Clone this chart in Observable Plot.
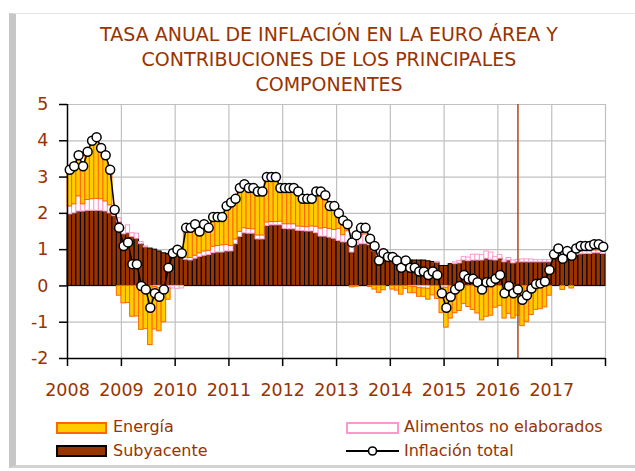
<!DOCTYPE html>
<html><head><meta charset="utf-8">
<script src="https://cdn.jsdelivr.net/npm/d3@7"></script>
<script src="https://cdn.jsdelivr.net/npm/@observablehq/plot@0.6"></script>
<style>
body{margin:0;background:#fff;font-family:"DejaVu Sans",sans-serif;}
#wrap{position:relative;width:635px;height:471px;overflow:hidden;background:#fff;}
#frame{position:absolute;left:9px;top:13px;width:640px;height:455px;box-sizing:border-box;border-top:1px solid #e6e6e6;border-left:7px solid #c6c6c6;border-bottom:3px solid #d2d2d2;}
#title{position:absolute;left:20px;top:22px;width:618px;text-align:center;font-size:19px;line-height:25px;color:#993300;}
#chart{position:absolute;left:0;top:90px;}
.chart text{fill:#993300;}
.lg{position:absolute;font-size:16px;line-height:16px;color:#993300;white-space:nowrap;}
.sw{position:absolute;box-sizing:border-box;height:12px;}
</style></head><body>
<div id="wrap">
  <div id="frame"></div>
  <div id="title">TASA ANUAL DE INFLACIÓN EN LA EURO ÁREA Y<br>CONTRIBUCIONES DE LOS PRINCIPALES<br>COMPONENTES</div>
  <div id="chart"></div>
  <div class="sw" style="left:56px;top:422px;width:51px;border:2px solid #ff6600;background:#ffcc00;"></div>
  <div class="lg" style="left:113px;top:419px;">Energía</div>
  <div class="sw" style="left:56px;top:445px;width:51px;border:2px solid #000;background:#993300;"></div>
  <div class="lg" style="left:113px;top:443px;">Subyacente</div>
  <div class="sw" style="left:346px;top:422px;width:53px;border:2px solid #ff99cc;background:#fff;"></div>
  <div class="lg" style="left:404px;top:419px;">Alimentos no elaborados</div>
  <svg style="position:absolute;left:340px;top:440px;" width="64" height="22"><line x1="6" y1="11" x2="59" y2="11" stroke="#000" stroke-width="2"/><circle cx="32.5" cy="11" r="4" fill="#fff" stroke="#000" stroke-width="1.6"/></svg>
  <div class="lg" style="left:404px;top:443px;">Inflación total</div>
</div>
<script>
const startYear = 2008;
const yearLabels = ["2008","2009","2010","2011","2012","2013","2014","2015","2016","2017"];
const yTickLabels = ["-2","-1","0","1","2","3","4","5"];
const seriesNames = ["Subyacente", "Alimentos no elaborados", "Energía"];

const inflacion = [
  3.2, 3.3, 3.6, 3.3, 3.7, 4.0, 4.1, 3.8, 3.6, 3.2, 2.1, 1.6,
  1.1, 1.2, 0.6, 0.6, 0.0, -0.1, -0.6, -0.2, -0.3, -0.1, 0.5, 0.9,
  1.0, 0.9, 1.6, 1.6, 1.7, 1.5, 1.7, 1.6, 1.9, 1.9, 1.9, 2.2,
  2.3, 2.4, 2.7, 2.8, 2.7, 2.7, 2.6, 2.6, 3.0, 3.0, 3.0, 2.7,
  2.7, 2.7, 2.7, 2.6, 2.4, 2.4, 2.4, 2.6, 2.6, 2.5, 2.2, 2.2,
  2.0, 1.8, 1.7, 1.2, 1.4, 1.6, 1.6, 1.3, 1.1, 0.7, 0.9, 0.8,
  0.8, 0.7, 0.5, 0.7, 0.5, 0.5, 0.4, 0.4, 0.3, 0.4, 0.3, -0.2,
  -0.6, -0.3, -0.1, 0.0, 0.3, 0.2, 0.2, 0.1, -0.1, 0.1, 0.1, 0.2,
  0.3, -0.2, 0.0, -0.2, -0.1, -0.38, -0.26, -0.07, 0.05, 0.07, 0.12, 0.44,
  0.87, 1.03, 0.75, 0.96, 0.83, 1.03, 1.1, 1.1, 1.1, 1.15, 1.15, 1.08
];
const subyacente = [
  1.97, 2.0, 2.05, 2.05, 2.07, 2.07, 2.07, 2.07, 2.05, 2.0, 1.92, 1.75,
  1.42, 1.45, 1.35, 1.3, 1.15, 1.06, 1.03, 1.0, 0.95, 0.9, 0.88, 0.87,
  0.85, 0.8, 0.72, 0.7, 0.75, 0.8, 0.83, 0.85, 0.9, 0.92, 0.92, 0.95,
  0.95, 1.15, 1.35, 1.45, 1.44, 1.44, 1.28, 1.28, 1.65, 1.67, 1.67, 1.67,
  1.57, 1.56, 1.56, 1.52, 1.51, 1.5, 1.5, 1.45, 1.36, 1.36, 1.33, 1.3,
  1.24, 1.2, 1.2, 0.92, 1.12, 1.15, 1.15, 1.12, 0.95, 0.75, 0.78, 0.7,
  0.8, 0.78, 0.72, 0.78, 0.7, 0.7, 0.7, 0.7, 0.68, 0.66, 0.64, 0.55,
  0.55, 0.6, 0.6, 0.62, 0.7, 0.68, 0.7, 0.7, 0.7, 0.75, 0.72, 0.7,
  0.75, 0.65, 0.7, 0.62, 0.65, 0.65, 0.65, 0.65, 0.65, 0.65, 0.65, 0.65,
  0.75, 0.8, 0.78, 0.85, 0.82, 0.85, 0.87, 0.88, 0.88, 0.9, 0.9, 0.88
];
const alimentos = [
  0.22, 0.25, 0.42, 0.2, 0.3, 0.32, 0.33, 0.32, 0.28, 0.22, 0.18, 0.12,
  0.16, 0.22, 0.1, 0.14, 0.06, 0.03, 0.0, -0.03, -0.06, -0.06, -0.07, -0.07,
  -0.08, -0.07, 0.06, 0.07, 0.08, 0.1, 0.12, 0.12, 0.18, 0.18, 0.2, 0.18,
  0.15, 0.13, 0.14, 0.14, 0.13, 0.12, 0.11, 0.11, 0.1, 0.09, 0.09, 0.1,
  0.13, 0.14, 0.14, 0.12, 0.12, 0.12, 0.14, 0.18, 0.22, 0.24, 0.24, 0.24,
  0.33, 0.2, 0.31, 0.32, 0.3, 0.27, 0.27, 0.21, 0.25, 0.14, 0.24, 0.1,
  0.1, 0.05, 0.02, 0.0, -0.02, -0.03, -0.06, -0.07, -0.08, 0.0, 0.02, -0.05,
  -0.05, 0.0, 0.05, 0.07, 0.1, 0.1, 0.16, 0.16, 0.15, 0.2, 0.2, 0.1,
  0.1, 0.05, 0.07, 0.08, 0.07, 0.08, 0.08, 0.08, 0.06, 0.06, 0.06, 0.06,
  0.07, 0.08, 0.08, 0.08, 0.08, 0.08, 0.08, 0.08, 0.08, 0.08, 0.08, 0.08
];
const energia = [
  1.01, 1.05, 1.13, 1.05, 1.33, 1.61, 1.70, 1.41, 1.27, 0.98, 0.0, -0.27,
  -0.48, -0.47, -0.85, -0.84, -1.21, -1.19, -1.63, -1.17, -1.19, -0.94, -0.31, 0.1,
  0.23, 0.17, 0.82, 0.83, 0.87, 0.6, 0.75, 0.63, 0.82, 0.8, 0.78, 1.07,
  1.2, 1.12, 1.21, 1.21, 1.13, 1.14, 1.21, 1.21, 1.25, 1.24, 1.24, 0.93,
  1.0, 1.0, 1.0, 0.96, 0.77, 0.78, 0.76, 0.97, 1.02, 0.9, 0.63, 0.66,
  0.43, 0.4, 0.19, -0.04, -0.02, 0.18, 0.18, -0.03, -0.1, -0.19, -0.12, 0.0,
  -0.1, -0.13, -0.24, -0.08, -0.18, -0.17, -0.24, -0.23, -0.3, -0.26, -0.36, -0.7,
  -1.1, -0.9, -0.75, -0.69, -0.5, -0.58, -0.66, -0.76, -0.95, -0.85, -0.82, -0.6,
  -0.55, -0.9, -0.77, -0.9, -0.82, -1.11, -0.99, -0.8, -0.66, -0.64, -0.59, -0.27,
  0.05, 0.15, -0.11, 0.03, -0.07, 0.1, 0.15, 0.14, 0.14, 0.17, 0.17, 0.12
];
// month index of the vertical marker (May 2016)
const markerMonth = 100;

const fills = {"Subyacente": "#993300", "Alimentos no elaborados": "#ffffff", "Energía": "#ffcc00"};
const strokes = {"Subyacente": "#000000", "Alimentos no elaborados": "#ff99cc", "Energía": "#ff6600"};

const monthStart = i => new Date(Date.UTC(startYear, i, 1));
const monthMid = i => new Date((monthStart(i).getTime() + monthStart(i + 1).getTime()) / 2);

const rows = [];
[[seriesNames[0], subyacente], [seriesNames[1], alimentos], [seriesNames[2], energia]].forEach(([s, arr]) => {
  arr.forEach((v, i) => rows.push({date: monthStart(i), series: s, value: v}));
});
const totalRows = inflacion.map((v, i) => ({date: monthMid(i), value: v}));
const yearTicks = d3.range(yearLabels.length + 1).map(k => new Date(Date.UTC(startYear + k, 0, 1)));
const yTicks = yTickLabels.map(Number);
const xFmt = d => { const k = d.getUTCFullYear() - startYear; return k < yearLabels.length ? yearLabels[k] : ""; };
const yFmt = d => yTickLabels[yTicks.indexOf(d)] ?? String(d);

const chart = Plot.plot({
  width: 635,
  height: 312,
  marginLeft: 67,
  marginRight: 30,
  marginTop: 14,
  marginBottom: 44,
  className: "chart",
  style: {background: "transparent", fontFamily: "DejaVu Sans", fontSize: "17.5px", color: "#000", overflow: "visible"},
  x: {type: "utc", domain: [yearTicks[0], yearTicks[yearTicks.length - 1]], axis: null},
  y: {domain: [-2, 5], axis: null},
  color: {type: "identity"},
  marks: [
    Plot.ruleY(d3.range(-1, 6), {stroke: "#c0c0c0", strokeWidth: 1.2}),
    Plot.ruleX(yearTicks.slice(1), {stroke: "#c0c0c0", strokeWidth: 1.2}),
    Plot.rectY(rows, {x: "date", interval: d3.utcMonth, y: "value",
      fill: d => fills[d.series], stroke: d => strokes[d.series], strokeWidth: 1, inset: 0}),
    Plot.ruleX([monthMid(markerMonth)], {stroke: "#b0441a", strokeWidth: 1.5}),
    Plot.axisX({ticks: yearTicks, tickFormat: xFmt, tickSize: 8, tickPadding: 17, label: null, stroke: "#000", strokeWidth: 1.5, fill: "#993300"}),
    Plot.axisY({ticks: yTicks, tickFormat: yFmt, tickSize: 8, tickPadding: 11, label: null, stroke: "#000", strokeWidth: 1.5, fill: "#993300"}),
    Plot.ruleX([yearTicks[0]], {stroke: "#000", strokeWidth: 1.5}),
    Plot.ruleY([-2], {stroke: "#000", strokeWidth: 1.5}),
    Plot.line(totalRows, {x: "date", y: "value", stroke: "#000", strokeWidth: 1.5}),
    Plot.dot(totalRows, {x: "date", y: "value", r: 4.5, fill: "#fff", stroke: "#000", strokeWidth: 1.5})
  ]
});
document.getElementById("chart").appendChild(chart);
</script>
</body></html>
